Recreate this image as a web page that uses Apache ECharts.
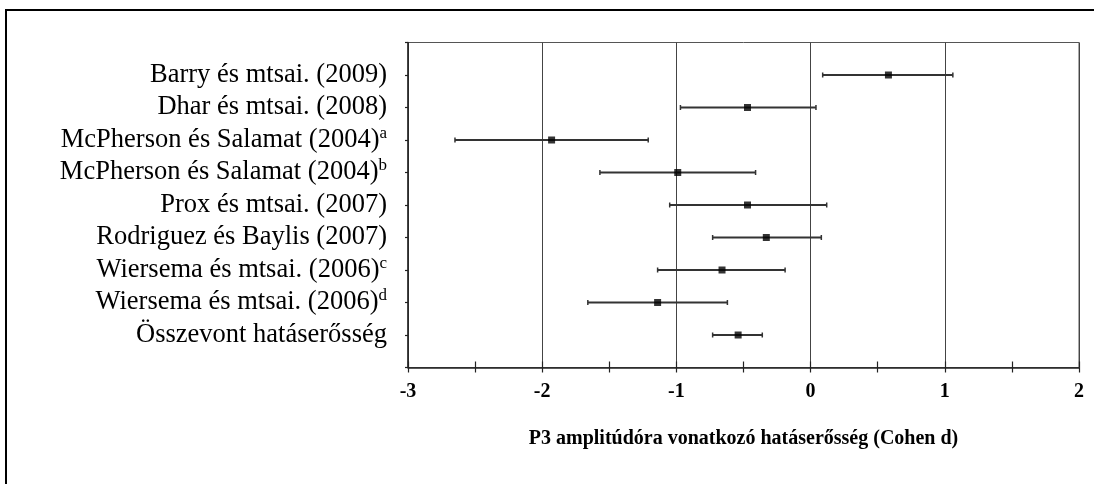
<!DOCTYPE html>
<html>
<head>
<meta charset="utf-8">
<script src="https://cdn.jsdelivr.net/npm/echarts@6/dist/echarts.min.js"></script>
<style>html,body{margin:0;padding:0;background:#fff;}#c{width:1094px;height:484px;}</style>
</head>
<body>
<div id="c"></div>
<script>
const categories = ['Barry és mtsai. (2009)', 'Dhar és mtsai. (2008)', 'McPherson és Salamat (2004)', 'McPherson és Salamat (2004)', 'Prox és mtsai. (2007)', 'Rodriguez és Baylis (2007)', 'Wiersema és mtsai. (2006)', 'Wiersema és mtsai. (2006)', 'Összevont hatáserősség'];
const superscripts = ['', '', 'a', 'b', '', '', 'c', 'd', ''];
const effect = [0.58, -0.47, -1.93, -0.99, -0.47, -0.33, -0.66, -1.14, -0.54];
const lower = [0.09, -0.97, -2.65, -1.57, -1.05, -0.73, -1.14, -1.66, -0.73];
const upper = [1.06, 0.04, -1.21, -0.41, 0.12, 0.08, -0.19, -0.62, -0.36];
const xTicks = [-3, -2, -1, 0, 1, 2];
const xTitle = 'P3 amplitúdóra vonatkozó hatáserősség (Cohen d)';

const serif = 'Liberation Serif';
const chart = echarts.init(document.getElementById('c'));
const barData = categories.map((c, i) => [lower[i], upper[i], i + 1]);
const pointData = categories.map((c, i) => [effect[i], i + 1]);

const xCommon = {
  type: 'value', min: xTicks[0], max: xTicks[xTicks.length - 1], interval: 1,
  position: 'bottom'
};

chart.setOption({
  animation: false,
  backgroundColor: '#fff',
  grid: { left: 408, top: 42.5, right: 15, bottom: 116.5, show: true, borderColor: '#555', borderWidth: 1 },
  graphic: [{
    type: 'rect', shape: { x: 6, y: 10, width: 1200, height: 600 },
    style: { fill: 'none', stroke: '#000', lineWidth: 2 }, z: 100, silent: true
  }],
  xAxis: [
    Object.assign({}, xCommon, {
      axisLine: { show: true, onZero: false, lineStyle: { color: '#222', width: 1.5 } },
      axisTick: { show: true, inside: false, length: 5, lineStyle: { color: '#222', width: 1.2 } },
      minorTick: { show: true, splitNumber: 2, length: 5, lineStyle: { color: '#222', width: 1.2 } },
      splitLine: { show: true, lineStyle: { color: '#444', width: 1 } },
      axisLabel: { show: true, margin: 14, color: '#000', fontFamily: serif, fontWeight: 'bold', fontSize: 20,
        formatter: v => String(v) },
      name: xTitle, nameLocation: 'middle', nameGap: 61,
      nameTextStyle: { color: '#000', fontFamily: serif, fontWeight: 'bold', fontSize: 20 }
    }),
    Object.assign({}, xCommon, {
      axisLine: { show: false, onZero: false },
      axisTick: { show: true, inside: true, length: 6, lineStyle: { color: '#222', width: 1.2 } },
      minorTick: { show: true, splitNumber: 2, length: 6, lineStyle: { color: '#222', width: 1.2 } },
      splitLine: { show: false },
      axisLabel: { show: false }
    })
  ],
  yAxis: {
    type: 'value', min: 0, max: categories.length + 1, interval: 1, inverse: true,
    axisLine: { show: true, onZero: false, lineStyle: { color: '#222', width: 1.5 } },
    axisTick: { show: true, inside: false, length: 3, lineStyle: { color: '#222', width: 1.2 } },
    splitLine: { show: false },
    axisLabel: {
      show: true, margin: 21, color: '#000', fontFamily: serif, fontSize: 26.5,
      formatter: v => {
        const i = Math.round(v) - 1;
        if (i < 0 || i >= categories.length) return '';
        return categories[i] + (superscripts[i] ? '{sup|' + superscripts[i] + '}' : '');
      },
      rich: { sup: { fontSize: 17, fontFamily: serif, color: '#000', verticalAlign: 'top', padding: [0, 0, 13, 0] } }
    }
  },
  series: [
    {
      type: 'custom', xAxisIndex: 0, yAxisIndex: 0, data: barData,
      renderItem: (params, api) => {
        const lo = api.coord([api.value(0), api.value(2)]);
        const hi = api.coord([api.value(1), api.value(2)]);
        const h = 2.5;
        const st = { stroke: '#333', lineWidth: 2 };
        return { type: 'group', children: [
          { type: 'line', shape: { x1: lo[0], y1: lo[1], x2: hi[0], y2: hi[1] }, style: st },
          { type: 'line', shape: { x1: lo[0], y1: lo[1] - h, x2: lo[0], y2: lo[1] + h }, style: { stroke: '#333', lineWidth: 1.5 } },
          { type: 'line', shape: { x1: hi[0], y1: hi[1] - h, x2: hi[0], y2: hi[1] + h }, style: { stroke: '#333', lineWidth: 1.5 } }
        ] };
      },
      encode: { x: [0, 1], y: 2 }
    },
    {
      type: 'scatter', xAxisIndex: 0, yAxisIndex: 0, data: pointData,
      symbol: 'rect', symbolSize: 7, itemStyle: { color: '#000' }, z: 5
    }
  ]
});
</script>
</body>
</html>
